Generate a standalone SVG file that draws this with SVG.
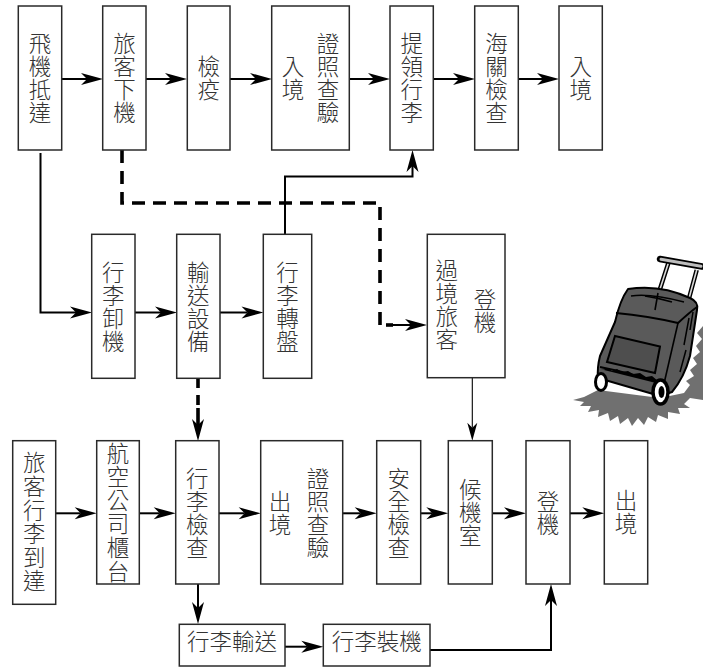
<svg xmlns="http://www.w3.org/2000/svg" width="703" height="667" viewBox="0 0 703 667">
  <style>
    .box { fill: #ffffff; stroke: #2a2a2a; stroke-width: 1.5; }
    .lbl { font-family: "Noto Sans CJK TC", "Noto Sans CJK SC", sans-serif; font-size: 22.5px; font-weight: 300; fill: #333333; text-anchor: middle; }
    .v { writing-mode: vertical-rl; text-orientation: upright; letter-spacing: 0.5px; }
    .v6 { letter-spacing: 1.1px; }
    .ln { fill: none; stroke: #000000; stroke-width: 2; }
    .thin { fill: none; stroke: #000000; stroke-width: 1.1; }
    .dash { fill: none; stroke: #000000; stroke-width: 3.6; stroke-dasharray: 13 8; }
  </style>
  <defs>
    <!-- stealth arrowhead; ref point at the notch so the shaft ends under the head -->
    <marker id="arr" markerUnits="userSpaceOnUse" markerWidth="22" markerHeight="12" refX="6" refY="6" orient="auto" overflow="visible">
      <path d="M0,0 L22,6 L0,12 L6,6 z" fill="#000000"/>
    </marker>
    <marker id="arrS" markerUnits="userSpaceOnUse" markerWidth="18" markerHeight="10" refX="5" refY="5" orient="auto" overflow="visible">
      <path d="M0,0 L18,5 L0,10 L5,5 z" fill="#000000"/>
    </marker>
  </defs>

  <!-- connectors -->
  <g id="connectors">
    <!-- arrival row -->
    <path class="ln" d="M62,79 H87" marker-end="url(#arr)"/>
    <path class="ln" d="M146,79 H171" marker-end="url(#arr)"/>
    <path class="ln" d="M230,79 H256" marker-end="url(#arr)"/>
    <path class="ln" d="M349,79 H374" marker-end="url(#arr)"/>
    <path class="ln" d="M433,79 H459" marker-end="url(#arr)"/>
    <path class="ln" d="M518,79 H543" marker-end="url(#arr)"/>
    <!-- baggage unloading -->
    <path class="ln" d="M40.5,153 V312.5 H76" marker-end="url(#arr)"/>
    <path class="ln" d="M135,312.5 H161" marker-end="url(#arr)"/>
    <path class="ln" d="M220,312.5 H247.5" marker-end="url(#arr)"/>
    <path class="ln" d="M285,234 V176.5 H412.5 V166" marker-end="url(#arr)"/>
    <!-- transit passengers -->
    <path class="dash" d="M122,150 V203 H380 V325"/>
    <path class="ln" d="M386,325 H393" style="stroke-width:3.6"/>
    <path class="ln" d="M392,325 H411" marker-end="url(#arr)"/>
    <path class="dash" d="M198,378 V410" style="stroke-dasharray: 10 7"/>
    <path class="ln" d="M198,408 V425" marker-end="url(#arr)" style="stroke-width:3.6"/>
    <path class="thin" d="M472.3,378 V427.7" marker-end="url(#arrS)"/>
    <!-- departure row -->
    <path class="ln" d="M55.7,513.3 H80.7" marker-end="url(#arr)"/>
    <path class="ln" d="M139.3,513.3 H159.7" marker-end="url(#arr)"/>
    <path class="ln" d="M217,513.3 H244.7" marker-end="url(#arr)"/>
    <path class="ln" d="M342.7,513.3 H360.7" marker-end="url(#arr)"/>
    <path class="ln" d="M420.7,513.3 H432.3" marker-end="url(#arr)"/>
    <path class="ln" d="M492.3,513.3 H510" marker-end="url(#arr)"/>
    <path class="ln" d="M570,513.3 H588.3" marker-end="url(#arr)"/>
    <!-- checked baggage -->
    <path class="ln" d="M198,584 V608" marker-end="url(#arr)"/>
    <path class="ln" d="M285,646.7 H307.3" marker-end="url(#arr)"/>
    <path class="ln" d="M430,650 H551 V600" marker-end="url(#arr)"/>
  </g>

  <!-- arrival row -->
  <g id="n-arrive">
    <rect class="box" x="18.3" y="6" width="43.4" height="144"/>
    <text class="lbl v" x="40" y="78.5">飛機抵達</text>
  </g>
  <g id="n-deplane">
    <rect class="box" x="102.7" y="6" width="43.3" height="144"/>
    <text class="lbl v" x="124.4" y="78.5">旅客下機</text>
  </g>
  <g id="n-quarantine">
    <rect class="box" x="187.3" y="6" width="42.7" height="144"/>
    <text class="lbl v" x="208.7" y="78.5">檢疫</text>
  </g>
  <g id="n-immigration-in">
    <rect class="box" x="271.7" y="6" width="77.6" height="144"/>
    <text class="lbl v" x="293" y="78.5">入境</text>
    <text class="lbl v" x="328" y="78.5">證照查驗</text>
  </g>
  <g id="n-claim">
    <rect class="box" x="390" y="6" width="43.3" height="144"/>
    <text class="lbl v" x="411.7" y="78.5">提領行李</text>
  </g>
  <g id="n-customs">
    <rect class="box" x="474.7" y="6" width="43.6" height="144"/>
    <text class="lbl v" x="496.5" y="78.5">海關檢查</text>
  </g>
  <g id="n-entry">
    <rect class="box" x="559" y="6" width="43.3" height="144"/>
    <text class="lbl v" x="580.7" y="78.5">入境</text>
  </g>

  <!-- baggage row -->
  <g id="n-unload">
    <rect class="box" x="91.7" y="234.3" width="43.3" height="144"/>
    <text class="lbl v" x="113.3" y="306.8">行李卸機</text>
  </g>
  <g id="n-conveyor">
    <rect class="box" x="176.7" y="234.3" width="43.3" height="144"/>
    <text class="lbl v" x="198.3" y="306.8">輸送設備</text>
  </g>
  <g id="n-carousel">
    <rect class="box" x="263.3" y="234.3" width="48.4" height="144"/>
    <text class="lbl v" x="287.5" y="306.8">行李轉盤</text>
  </g>
  <g id="n-transit">
    <rect class="box" x="427.3" y="234.3" width="77.7" height="143.4"/>
    <text class="lbl v" x="446.7" y="304.8">過境旅客</text>
    <text class="lbl v" x="485" y="310.8">登機</text>
  </g>

  <!-- departure row -->
  <g id="n-bag-arrive">
    <rect class="box" x="12.7" y="440.7" width="43" height="163.6"/>
    <text class="lbl v v6" x="34.2" y="522.5">旅客行李到達</text>
  </g>
  <g id="n-counter">
    <rect class="box" x="96.7" y="440.7" width="42.6" height="143.3"/>
    <text class="lbl v v6" x="118" y="512.7">航空公司櫃台</text>
  </g>
  <g id="n-bag-check">
    <rect class="box" x="175.7" y="440.7" width="43.3" height="143.3"/>
    <text class="lbl v" x="197.3" y="512.8">行李檢查</text>
  </g>
  <g id="n-immigration-out">
    <rect class="box" x="260.7" y="440.7" width="82" height="143.3"/>
    <text class="lbl v" x="280" y="512.8">出境</text>
    <text class="lbl v" x="318" y="512.8">證照查驗</text>
  </g>
  <g id="n-security">
    <rect class="box" x="376.7" y="440.7" width="44" height="143.3"/>
    <text class="lbl v" x="398.7" y="512.8">安全檢查</text>
  </g>
  <g id="n-lounge">
    <rect class="box" x="448.3" y="440.7" width="44" height="143.3"/>
    <text class="lbl v" x="470.3" y="512.3">候機室</text>
  </g>
  <g id="n-board">
    <rect class="box" x="526" y="440.7" width="44" height="143.3"/>
    <text class="lbl v" x="548" y="512.8">登機</text>
  </g>
  <g id="n-exit">
    <rect class="box" x="604.3" y="440.7" width="43.4" height="143.3"/>
    <text class="lbl v" x="626" y="511.8">出境</text>
  </g>

  <!-- checked baggage -->
  <g id="n-bag-transport">
    <rect class="box" x="179.3" y="624.3" width="105.7" height="41.7"/>
    <text class="lbl" x="232" y="650">行李輸送</text>
  </g>
  <g id="n-bag-load">
    <rect class="box" x="323.3" y="624.3" width="106.7" height="41.7"/>
    <text class="lbl" x="376.7" y="650">行李裝機</text>
  </g>

  <!-- rolling suitcase illustration -->
  <g id="suitcase">
    <!-- ground shadow -->
    <path fill="#707070" d="M573,400 L584,397 L598,390 L660,398 L684,393 L690,385 L686,381 L694,376 L690,370 L697,364 L693,358 L700,352 L696,346 L702,339 L697,333 L703,326 L703,400 L690,398 L684,404 L690,408 L678,408 L680,414 L668,412 L668,419 L658,415 L656,422 L648,417 L644,425 L638,418 L632,426 L628,418 L620,424 L618,416 L610,421 L608,413 L598,417 L599,410 L588,412 L591,406 L580,406 L584,402 z"/>
    <!-- telescoping handle -->
    <path d="M668.3,263.3 L660,289 M696.7,270 L688,302" stroke="#000" stroke-width="4.5" fill="none"/>
    <path d="M668.3,263.3 L660,289 M696.7,270 L688,302" stroke="#d8d8d8" stroke-width="1.6" fill="none"/>
    <path d="M660,259 L702,266.5" stroke="#000" stroke-width="6.5" stroke-linecap="round" fill="none"/>
    <path d="M661,259.3 L701,266.3" stroke="#bdbdbd" stroke-width="3" stroke-linecap="round" fill="none"/>
    <!-- case body -->
    <path fill="#5a5a5a" stroke="#000" stroke-width="2" stroke-linejoin="round" d="M628,289 Q660,284 690,298 Q699,302 697,310 L690,356 Q684,378 672,392 L660,396 L598,378 Q597,368 600,356 L615,322 Q620,300 628,289 z"/>
    <!-- top face and side seams -->
    <path fill="none" stroke="#000" stroke-width="2" d="M616,313 Q648,316 678,323 Q690,312 697,307"/>
    <path fill="none" stroke="#000" stroke-width="1.6" d="M678,323 L663,388"/>
    <path fill="none" stroke="#000" stroke-width="1.6" d="M658,293 L655,310 M645,296 Q658,298 672,302"/>
    <path fill="none" stroke="#000" stroke-width="1.4" d="M631,296 Q650,293 684,302"/>
    <!-- front pocket -->
    <path fill="#4e4e4e" stroke="#000" stroke-width="2" d="M615,336 L660,346.5 L655,373 L607,362 z"/>
    <!-- bottom band -->
    <path fill="none" stroke="#000" stroke-width="2" d="M600,367 Q630,373 661,383"/>
    <path fill="#000" d="M603,370 L608,368 L612,371 L617,369 L622,372 L628,371 L633,374 L640,373 L646,377 L652,376 L658,381 L660,384 L600,369 z"/>
    <!-- side texture -->
    <path fill="none" stroke="#000" stroke-width="1.5" d="M689,318 L684,345 M686,350 L680,372 M693,312 L690,330"/>
    <!-- wheels -->
    <ellipse cx="601" cy="382" rx="5.5" ry="8.5" fill="#ffffff" stroke="#000" stroke-width="3"/>
    <ellipse cx="660.5" cy="392" rx="7.5" ry="12" fill="#ffffff" stroke="#000" stroke-width="3.5"/>
    <ellipse cx="661.5" cy="392" rx="3" ry="6" fill="#000"/>
  </g>
</svg>
